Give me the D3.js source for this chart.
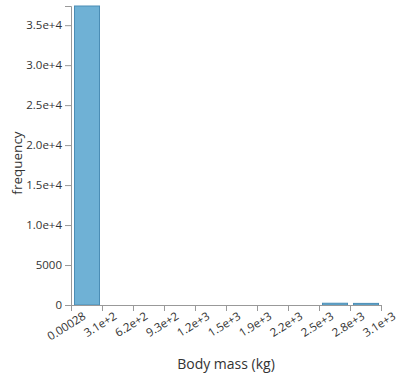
<!DOCTYPE html>
<html>
<head>
<meta charset="utf-8">
<script src="https://cdn.jsdelivr.net/npm/d3@7"></script>
<style>
  body { margin: 0; background: #fff; }
  text { font-family: "Open Sans", "Noto Sans", sans-serif; fill: #333; }
  .axis path, .axis line { stroke: #999; }
  .axis text { font-size: 11.5px; fill: #333; }
</style>
</head>
<body>
<div id="chart"></div>
<script>
var binEdges = [0.00028, 310, 620, 930, 1240, 1550, 1860, 2170, 2480, 2790, 3100];
var edgeLabels = ["0.00028", "3.1e+2", "6.2e+2", "9.3e+2", "1.2e+3", "1.5e+3", "1.9e+3", "2.2e+3", "2.5e+3", "2.8e+3", "3.1e+3"];
var counts = [37400, 0, 0, 0, 0, 0, 0, 0, 220, 200];
var yTicks = [0, 5000, 10000, 15000, 20000, 25000, 30000, 35000];
var yLabels = ["0", "5000", "1.0e+4", "1.5e+4", "2.0e+4", "2.5e+4", "3.0e+4", "3.5e+4"];

var svgWidth = 397;
var svgHeight = 381;
var margin = { top: 6, right: 16, bottom: 76, left: 71 };
var chartWidth = svgWidth - margin.left - margin.right;
var chartHeight = svgHeight - margin.top - margin.bottom;

var svg = d3.select("#chart")
  .append("svg")
  .attr("width", svgWidth)
  .attr("height", svgHeight);

var chartGroup = svg.append("g")
  .attr("transform", `translate(${margin.left}, ${margin.top})`);

var xScale = d3.scaleLinear()
  .domain([binEdges[0], binEdges[binEdges.length - 1]])
  .range([0, chartWidth]);

var yScale = d3.scaleLinear()
  .domain([0, d3.max(counts)])
  .range([chartHeight, 0]);

var bins = counts.map(function(c, i) {
  return { x0: binEdges[i], x1: binEdges[i + 1], count: c };
});

chartGroup.append("g")
  .selectAll("rect")
  .data(bins)
  .enter()
  .append("rect")
  .attr("x", d => xScale(d.x0) + 3.5)
  .attr("width", d => xScale(d.x1) - xScale(d.x0) - 6)
  .attr("y", d => yScale(d.count))
  .attr("height", d => chartHeight - yScale(d.count))
  .attr("fill", "#6fb1d5")
  .attr("stroke", d => d.count > 0 ? "#4b8db5" : "none")
  .attr("stroke-width", 1);

var bottomAxis = d3.axisBottom(xScale)
  .tickValues(binEdges)
  .tickFormat((d, i) => edgeLabels[i]);

chartGroup.append("g")
  .classed("axis", true)
  .attr("transform", `translate(0, ${chartHeight})`)
  .call(bottomAxis)
  .selectAll("text")
  .attr("text-anchor", "end")
  .attr("dx", "0.5em")
  .attr("dy", "0.9em")
  .attr("transform", "rotate(-32)");

var leftAxis = d3.axisLeft(yScale)
  .tickValues(yTicks)
  .tickFormat((d, i) => yLabels[i]);

chartGroup.append("g")
  .classed("axis", true)
  .call(leftAxis);

chartGroup.append("text")
  .attr("transform", "rotate(-90)")
  .attr("x", -157)
  .attr("y", -49)
  .style("text-anchor", "middle")
  .style("font-size", "13.5px")
  .text("frequency");

chartGroup.append("text")
  .attr("x", chartWidth / 2)
  .attr("y", chartHeight + 64)
  .style("text-anchor", "middle")
  .style("font-size", "14px")
  .text("Body mass (kg)");
</script>
</body>
</html>
